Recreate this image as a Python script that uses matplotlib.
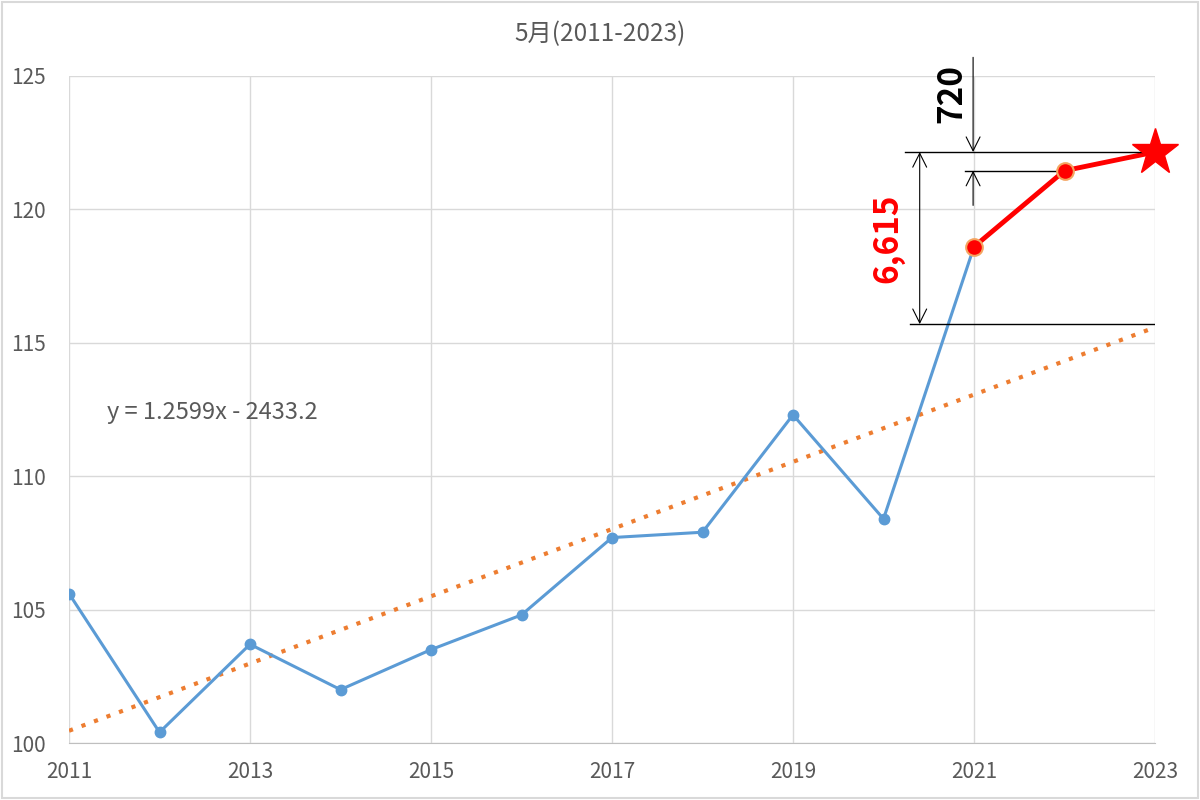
import matplotlib
matplotlib.use('Agg')
import matplotlib.pyplot as plt
from matplotlib.patches import Rectangle

plt.rcParams['font.family'] = ['Noto Sans CJK JP', 'DejaVu Sans']

# data
years = [2011, 2012, 2013, 2014, 2015, 2016, 2017, 2018, 2019, 2020, 2021]
values = [105.6, 100.4, 103.7, 102.0, 103.5, 104.8, 107.7, 107.9, 112.3, 108.4, 118.6]
red_years = [2021, 2022, 2023]
red_values = [118.6, 121.45, 122.15]
star_year = 2023
star_value = 122.15
# trendline from the equation printed on the chart
trend_slope = 1.2599
trend_icept = -2433.2
trend_years = [2011, 2023]
base_value = 115.7   # bottom reference line of the 6,615 bracket
title = '5月(2011-2023)'
eq_text = 'y = 1.2599x - 2433.2'

grey = '#595959'
blue = '#5B9BD5'
orange = '#ED7D31'
red = '#FF0000'

fig = plt.figure(figsize=(12, 8), dpi=100)
fig.patches.append(Rectangle((0.002, 0.002), 0.996, 0.996, transform=fig.transFigure,
                             fill=False, edgecolor='#D9D9D9', linewidth=1.5))
ax = fig.add_axes([0.0575, 0.07125, 0.905, 0.83375])

ax.set_xlim(2011, 2023)
ax.set_ylim(100, 125)
ax.set_xticks(range(2011, 2024, 2))
ax.set_yticks(range(100, 126, 5))
ax.grid(True, color='#D9D9D9', linewidth=1)
ax.set_axisbelow(True)
for s in ['top', 'right', 'left']:
    ax.spines[s].set_visible(False)
ax.spines['bottom'].set_color('#BFBFBF')
ax.tick_params(length=0, labelsize=15, colors=grey)
ax.tick_params(axis='x', pad=13)
for lab in ax.get_yticklabels():
    lab.set_horizontalalignment('left')
ax.yaxis.set_tick_params(pad=42)

# trendline
ty = [trend_slope * x + trend_icept for x in trend_years]
ax.plot(trend_years, ty, color=orange, linestyle=(0, (1, 2.2)), linewidth=3, zorder=2)

# blue series
ax.plot(years, values, color=blue, linewidth=2.2, marker='o', markersize=7.5, zorder=3)

# red continuation
ax.plot(red_years, red_values, color=red, linewidth=3.5, zorder=4)
ax.plot(red_years[:2], red_values[:2], linestyle='none', marker='o', markersize=12,
        markerfacecolor=red, markeredgecolor='#F4A460', markeredgewidth=1.5, zorder=5)
ax.plot([star_year], [star_value], linestyle='none', marker='*', markersize=35,
        color=red, clip_on=False, zorder=6)

# bracket lines
ax.plot([2020.24, 2023], [star_value, star_value], color='black', linewidth=1, clip_on=False, zorder=4)
ax.plot([2020.29, 2023], [base_value, base_value], color='black', linewidth=1, zorder=4)
ax.plot([2020.9, 2022], [red_values[1], red_values[1]], color='black', linewidth=1, zorder=4)

arr = dict(arrowstyle='<->', color='black', linewidth=0.8, mutation_scale=25,
           shrinkA=0, shrinkB=0)
ax.annotate('', xy=(2020.4, star_value), xytext=(2020.4, base_value), arrowprops=arr)
arr1 = dict(arrowstyle='->', color='black', linewidth=0.8, mutation_scale=25,
            shrinkA=0, shrinkB=0)
ax.annotate('', xy=(2020.99, star_value), xytext=(2020.99, 125.7),
            arrowprops=arr1, annotation_clip=False)
ax.annotate('', xy=(2020.99, red_values[1]), xytext=(2020.99, 120.15), arrowprops=arr1)

ax.text(2020.05, 118.93, '6,615', color=red, fontsize=24, fontweight='bold',
        rotation=90, ha='center', va='center')
ax.text(2020.76, 124.36, '720', color='black', fontsize=24, fontweight='bold',
        rotation=90, ha='center', va='center', clip_on=False)

ax.text(2011.42, 112.4, eq_text, color=grey, fontsize=17, ha='left', va='center')
fig.text(0.5, 0.958, title, color=grey, fontsize=17.5, ha='center', va='center')

fig.savefig('out.png', dpi=100)
